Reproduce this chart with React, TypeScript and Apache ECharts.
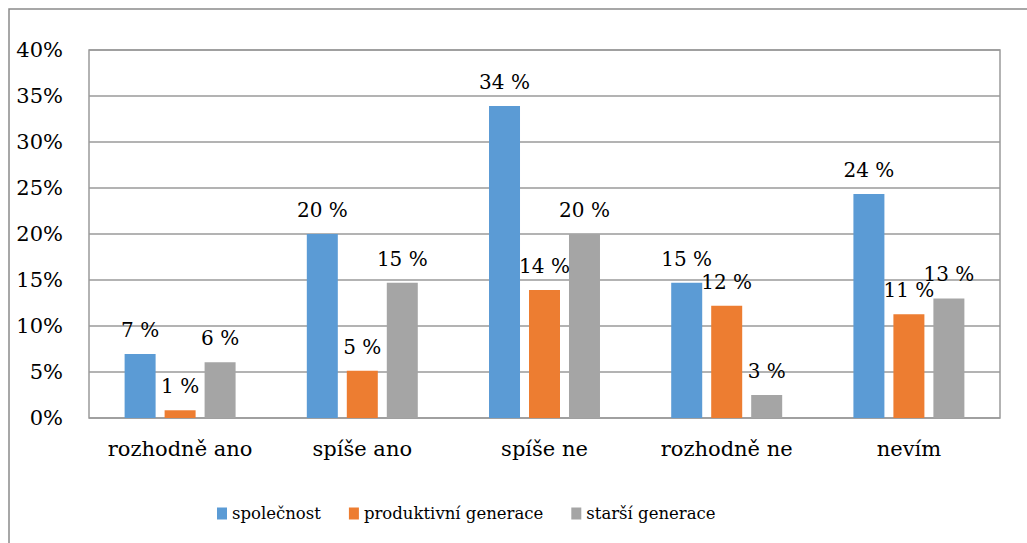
import React, { useEffect, useRef } from "react";
import * as echarts from "echarts";

const categories = ["rozhodně ano", "spíše ano", "spíše ne", "rozhodně ne", "nevím"];
const seriesNames = ["společnost", "produktivní generace", "starší generace"];
const spolecnost = [6.96, 20.0, 33.9, 14.7, 24.35];
const produktivni = [0.84, 5.14, 13.9, 12.2, 11.27];
const starsi = [6.05, 14.7, 20.0, 2.5, 13.0];
const colors = ["#5B9BD5", "#ED7D31", "#A5A5A5"];
const yMin = 0;
const yMax = 40;
const yInterval = 5;

const FONT = "DejaVu Serif";

export default function App() {
  const ref = useRef<HTMLDivElement>(null);
  useEffect(() => {
    if (!ref.current) return;
    const chart = echarts.init(ref.current, null, { renderer: "svg" });
    const values = [spolecnost, produktivni, starsi];
    chart.setOption({
      animation: false,
      backgroundColor: "#ffffff",
      textStyle: { fontFamily: FONT, color: "#000" },
      graphic: [
        {
          type: "rect",
          shape: { x: 9, y: 9, width: 1200, height: 700 },
          style: { fill: "none", stroke: "#8a8a8a", lineWidth: 1.5 },
          silent: true,
        },
      ],
      grid: { left: 89, right: 27, top: 50, bottom: 125, show: true, borderColor: "#9a9a9a", borderWidth: 1.5 },
      legend: {
        left: 212,
        top: 500,
        itemWidth: 10,
        itemHeight: 12,
        itemGap: 28,
        icon: "rect",
        data: seriesNames,
        textStyle: { fontFamily: FONT, fontSize: 16.5, color: "#000" },
      },
      xAxis: {
        type: "category",
        data: categories,
        axisLine: { show: false },
        axisTick: { show: false },
        axisLabel: { fontFamily: FONT, fontSize: 21, color: "#000", margin: 20, interval: 0 },
      },
      yAxis: {
        type: "value",
        min: yMin,
        max: yMax,
        interval: yInterval,
        axisLine: { show: false },
        axisTick: { show: false },
        splitLine: { lineStyle: { color: "#9a9a9a", width: 1.5 } },
        axisLabel: { fontFamily: FONT, fontSize: 21, color: "#000", margin: 26, formatter: "{value}%" },
      },
      series: seriesNames.map((name, i) => ({
        name,
        type: "bar",
        data: values[i],
        barWidth: 31,
        barGap: "29%",
        itemStyle: { color: colors[i] },
        label: {
          show: true,
          position: "top",
          distance: 14,
          fontFamily: FONT,
          fontSize: 20,
          color: "#000",
          formatter: (p: any) => Math.round(p.value) + " %",
        },
      })),
    });
    return () => chart.dispose();
  }, []);
  return <div ref={ref} style={{ position: "fixed", left: 0, top: 0, width: 1027, height: 543 }} />;
}
